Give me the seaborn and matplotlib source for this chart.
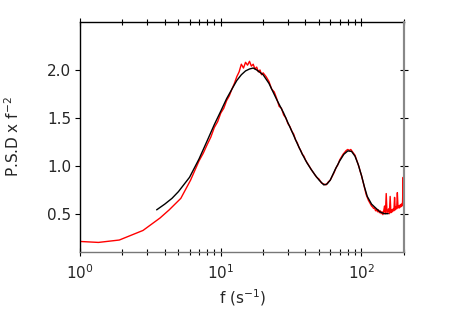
import matplotlib
matplotlib.use("Agg")
import matplotlib.pyplot as plt
import seaborn as sns
import pandas as pd
from matplotlib.ticker import LogLocator, NullFormatter

# ---- data ----
red_f = [1.0, 1.35, 1.9, 2.8, 3.7, 4.3, 5.2, 6.1, 7.0,
         7.5, 8.0, 8.5, 9.0, 9.5, 10.0, 10.5, 11.0, 11.5, 12.0, 12.5,
         13.0, 13.5, 14.0, 14.5, 15.0, 15.5, 16.0, 16.5, 17.0, 17.5,
         18.0, 18.5, 19.0, 19.5, 20.0,
         21, 22, 23, 24, 25, 26, 27, 28, 29, 30, 31, 32, 33, 34, 35,
         36, 37, 38, 39, 40,
         42, 44, 46, 48, 50, 52, 54, 56, 58, 60, 62, 64, 66, 68, 70,
         72, 74, 76, 78, 80, 82, 84, 86, 88, 90, 92, 94, 96, 98, 100,
         102, 104, 106, 108, 110, 112, 114, 116, 118, 120,
         122, 124, 126, 128, 130, 132, 134, 136, 138, 140,
         142, 144, 146, 148, 150, 152, 154, 156, 158, 160,
         162, 164, 166, 168, 170, 172, 174, 176, 178, 180,
         182, 184, 186, 188, 190, 192, 194, 196, 198, 200]
red_psd = [0.21, 0.20, 0.225, 0.325, 0.455, 0.54, 0.66, 0.85, 1.05,
           1.13, 1.22, 1.30, 1.40, 1.46, 1.55, 1.60, 1.68, 1.73, 1.80, 1.86,
           1.93, 1.98, 2.06, 2.02, 2.08, 2.05, 2.09, 2.04, 2.06, 2.01,
           2.03, 1.98, 2.00, 1.95, 1.97,
           1.93, 1.88, 1.80, 1.77, 1.70, 1.62, 1.60, 1.53, 1.50, 1.44,
           1.41, 1.36, 1.33, 1.27, 1.24, 1.19, 1.16, 1.12, 1.10, 1.06,
           1.01, 0.96, 0.92, 0.88, 0.86, 0.82, 0.81, 0.80, 0.83, 0.85,
           0.89, 0.93, 0.98, 1.01, 1.06, 1.09, 1.12, 1.14, 1.16, 1.17,
           1.16, 1.17, 1.15, 1.13, 1.11, 1.07, 1.03, 0.99, 0.94, 0.90,
           0.85, 0.80, 0.75, 0.70, 0.67, 0.64, 0.62, 0.60, 0.58, 0.57,
           0.555, 0.56, 0.53, 0.545, 0.52, 0.54, 0.51, 0.53, 0.50, 0.52,
           0.49, 0.53, 0.58, 0.50, 0.71, 0.51, 0.53, 0.55, 0.50, 0.68,
           0.51, 0.54, 0.52, 0.55, 0.53, 0.67, 0.54, 0.57, 0.55, 0.72,
           0.56, 0.58, 0.56, 0.59, 0.57, 0.60, 0.58, 0.62, 0.88, 0.60]

fit_f = [3.5, 4.0, 4.5, 5.0, 6.0, 7.0, 8.0, 9.0, 10, 11, 12, 13, 14, 15,
         16, 17, 18, 20, 22, 25, 28, 30, 32, 35, 38, 41, 44, 47, 50, 54,
         57, 60, 65, 70, 75, 80, 85, 90, 95, 100, 105, 110, 118, 125, 135,
         145, 155]
fit_psd = [0.54, 0.60, 0.66, 0.73, 0.88, 1.07, 1.26, 1.43, 1.57, 1.70,
           1.80, 1.89, 1.95, 1.99, 2.01, 2.02, 2.00, 1.95, 1.86, 1.69,
           1.55, 1.45, 1.36, 1.23, 1.12, 1.03, 0.96, 0.90, 0.85, 0.80,
           0.81, 0.85, 0.96, 1.05, 1.12, 1.155, 1.15, 1.10, 1.01, 0.90,
           0.78, 0.68, 0.60, 0.565, 0.52, 0.50, 0.50]

y_ticks = [0.5, 1.0, 1.5, 2.0]
y_tick_labels = ["0.5", "1.0", "1.5", "2.0"]

red_df = pd.DataFrame({"f": red_f, "psd": red_psd})
fit_df = pd.DataFrame({"f": fit_f, "psd": fit_psd})

sns.set_style("ticks")
plt.rcParams["font.family"] = ["DejaVu Sans"]

fig = plt.figure(figsize=(4.5, 3.15), dpi=100)
ax = fig.add_axes([0.178, 0.2, 0.72, 0.73])

sns.lineplot(data=red_df, x="f", y="psd", ax=ax, color="#ff0000",
             linewidth=1.0, estimator=None, sort=False)
sns.lineplot(data=fit_df, x="f", y="psd", ax=ax, color="black",
             linewidth=1.0, estimator=None, sort=False)

ax.set_xscale("log")
axr = ax.twinx()

ax.set_xlim(1, 201)
ax.set_ylim(0.1, 2.5)
axr.set_ylim(0.1, 2.5)
ax.set_yticks(y_ticks)
ax.set_yticklabels(y_tick_labels)
axr.set_yticks(y_ticks)
ax.xaxis.set_major_locator(LogLocator(base=10.0, numticks=10))
ax.xaxis.set_minor_locator(LogLocator(base=10.0,
                                      subs=[2, 3, 4, 5, 6, 7, 8, 9],
                                      numticks=20))
ax.xaxis.set_minor_formatter(NullFormatter())

ax.set_xlabel("f (s$^{-1}$)", fontsize=11, labelpad=4)
ax.set_ylabel("P.S.D x f$^{-2}$", fontsize=11, labelpad=18)
axr.set_ylabel("")

for s in ["left", "top", "right", "bottom"]:
    ax.spines[s].set_visible(True)
    ax.spines[s].set_linewidth(1.0)
ax.spines["left"].set_color("black")
ax.spines["top"].set_color("black")
ax.spines["bottom"].set_color("#777777")
ax.spines["right"].set_color("#888888")
ax.spines["right"].set_linewidth(1.5)
for s in ["left", "top", "bottom"]:
    axr.spines[s].set_visible(False)
axr.spines["right"].set_color("#888888")
axr.spines["right"].set_linewidth(1.5)

ax.tick_params(axis="x", which="major", direction="inout", length=6,
               width=0.8, top=True, bottom=True, labelsize=11, pad=5,
               color="black")
ax.tick_params(axis="x", which="minor", direction="inout", length=4,
               width=0.8, top=True, bottom=True, color="black")
ax.tick_params(axis="y", which="major", direction="out", length=3.5,
               width=0.8, left=True, right=False, labelsize=11, pad=3,
               color="black")
ax.tick_params(axis="y", which="minor", left=False, right=False)
axr.tick_params(axis="y", which="major", direction="inout", length=6,
                width=0.8, right=True, labelright=False, color="black")
axr.tick_params(axis="y", which="minor", right=False, left=False)

fig.savefig("out.png", dpi=100)
